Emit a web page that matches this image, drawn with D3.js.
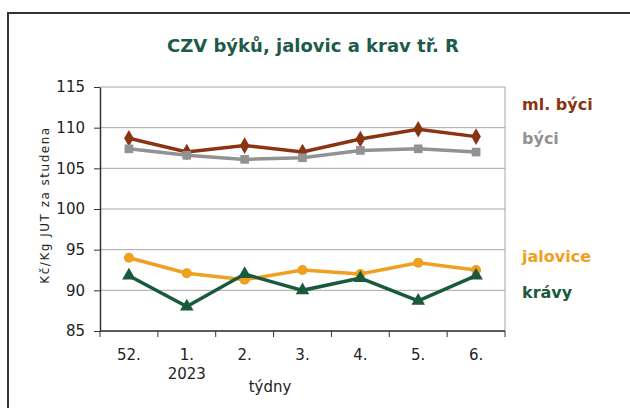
<html lang="cs">
  <head>
    <meta charset="utf-8">
    <title>CZV býků, jalovic a krav</title>
    <script src="https://d3js.org/d3.v7.min.js"></script>
    <style>
      body { margin: 0; background: #fff; overflow: hidden; }
      svg { display: block; }
      text { font-family: "DejaVu Sans", Verdana, sans-serif; }
    </style>
  </head>
  <body>
    <script type="text/javascript">
      var w = 630;
      var h = 408;
      var margin = {top: 87, right: 125, bottom: 77, left: 100};
      var innerWidth = w - margin.left - margin.right;
      var innerHeight = h - margin.top - margin.bottom;

      // data
      var weeks = ["52.", "1.", "2.", "3.", "4.", "5.", "6."];
      var subLabels = ["", "2023", "", "", "", "", ""];
      var mlByci = [108.7, 107.0, 107.8, 107.0, 108.6, 109.8, 108.9];
      var byci = [107.4, 106.6, 106.1, 106.3, 107.2, 107.4, 107.0];
      var jalovice = [94.0, 92.1, 91.3, 92.5, 92.0, 93.4, 92.5];
      var kravy = [91.8, 88.0, 92.0, 90.0, 91.5, 88.7, 91.8];
      var yTicks = [85, 90, 95, 100, 105, 110, 115];

      var series = [
        {name: "ml. býci", values: mlByci, color: "#8a3412", symbol: d3.symbolDiamond, size: 80, labelY: 104},
        {name: "býci", values: byci, color: "#929292", symbol: d3.symbolSquare, size: 75, labelY: 138},
        {name: "jalovice", values: jalovice, color: "#f0a020", symbol: d3.symbolCircle, size: 80, labelY: 256},
        {name: "krávy", values: kravy, color: "#1a5a3c", symbol: d3.symbolTriangle, size: 80, labelY: 292}
      ];

      var svg = d3.select("body")
          .append("svg")
          .attr("width", w)
          .attr("height", h);

      // outer frame (only left and top edges are in view)
      svg.append("path")
          .attr("d", `M8,${h} L8,13 L${w},13`)
          .attr("fill", "none")
          .attr("stroke", "#333")
          .attr("stroke-width", 2);

      svg.append("text")
          .attr("x", 313).attr("y", 52)
          .attr("text-anchor", "middle")
          .attr("font-size", 18)
          .attr("font-weight", "bold")
          .attr("fill", "#1d5a4a")
          .text("CZV býků, jalovic a krav tř. R");

      var xScale = d3.scaleBand()
          .domain(weeks)
          .range([0, innerWidth]);
      var yScale = d3.scaleLinear()
          .domain([85, 115])
          .range([innerHeight, 0]);

      var g = svg.append("g")
          .attr("transform", `translate(${margin.left},${margin.top})`);

      // gridlines
      g.selectAll(".grid")
          .data(yTicks)
          .enter()
          .append("line")
          .attr("x1", 0).attr("x2", innerWidth)
          .attr("y1", function(d) { return yScale(d); })
          .attr("y2", function(d) { return yScale(d); })
          .attr("stroke", "#a6a6a6")
          .attr("stroke-width", 1);
      g.append("line")
          .attr("x1", innerWidth).attr("x2", innerWidth)
          .attr("y1", 0).attr("y2", innerHeight)
          .attr("stroke", "#a6a6a6");

      var yAxis = d3.axisLeft(yScale)
          .tickValues(yTicks)
          .tickSize(6)
          .tickPadding(9)
          .tickSizeOuter(0);
      var yG = g.append("g").call(yAxis);
      yG.select(".domain").attr("stroke", "#333").attr("stroke-width", 1.5);
      yG.selectAll("line").attr("stroke", "#333");
      yG.selectAll("text").attr("font-size", 15).attr("fill", "#222");

      // x axis: ticks sit between categories
      var xG = g.append("g").attr("transform", `translate(0,${innerHeight})`);
      xG.append("line")
          .attr("x1", 0).attr("x2", innerWidth)
          .attr("stroke", "#333").attr("stroke-width", 1.5);
      xG.selectAll(".tk")
          .data(weeks.concat([null]))
          .enter()
          .append("line")
          .attr("x1", function(d, i) { return i * xScale.step(); })
          .attr("x2", function(d, i) { return i * xScale.step(); })
          .attr("y1", 0).attr("y2", 6)
          .attr("stroke", "#333");
      xG.selectAll(".lbl")
          .data(weeks)
          .enter()
          .append("text")
          .attr("x", function(d) { return xScale(d) + xScale.bandwidth() / 2; })
          .attr("y", 29)
          .attr("text-anchor", "middle")
          .attr("font-size", 15)
          .attr("fill", "#222")
          .text(function(d) { return d; });
      xG.selectAll(".sub")
          .data(subLabels.filter(function(d) { return d; }))
          .enter()
          .append("text")
          .attr("x", function(d) { return xScale(weeks[subLabels.indexOf(d)]) + xScale.bandwidth() / 2; })
          .attr("y", 48)
          .attr("text-anchor", "middle")
          .attr("font-size", 15)
          .attr("fill", "#222")
          .text(function(d) { return d; });

      svg.append("text")
          .attr("x", 270).attr("y", 392)
          .attr("text-anchor", "middle")
          .attr("font-size", 15)
          .attr("fill", "#222")
          .text("týdny");

      svg.append("text")
          .attr("transform", "translate(49,205) rotate(-90)")
          .attr("text-anchor", "middle")
          .attr("font-size", 12)
          .attr("letter-spacing", 1.5)
          .attr("fill", "#222")
          .text("Kč/Kg JUT za studena");

      var line = d3.line()
          .x(function(d, i) { return xScale(weeks[i]) + xScale.bandwidth() / 2; })
          .y(function(d) { return yScale(d); });

      series.forEach(function(s) {
        g.append("path")
            .datum(s.values)
            .attr("d", line)
            .attr("fill", "none")
            .attr("stroke", s.color)
            .attr("stroke-width", 3.5);
        g.selectAll(null)
            .data(s.values)
            .enter()
            .append("path")
            .attr("d", d3.symbol().type(s.symbol).size(s.size))
            .attr("transform", function(d, i) {
              return `translate(${xScale(weeks[i]) + xScale.bandwidth() / 2},${yScale(d)})`;
            })
            .attr("fill", s.color);
        svg.append("text")
            .attr("x", 522).attr("y", s.labelY + 6)
            .attr("font-size", 16)
            .attr("font-weight", "bold")
            .attr("fill", s.color)
            .text(s.name);
      });
    </script>
  </body>
</html>
